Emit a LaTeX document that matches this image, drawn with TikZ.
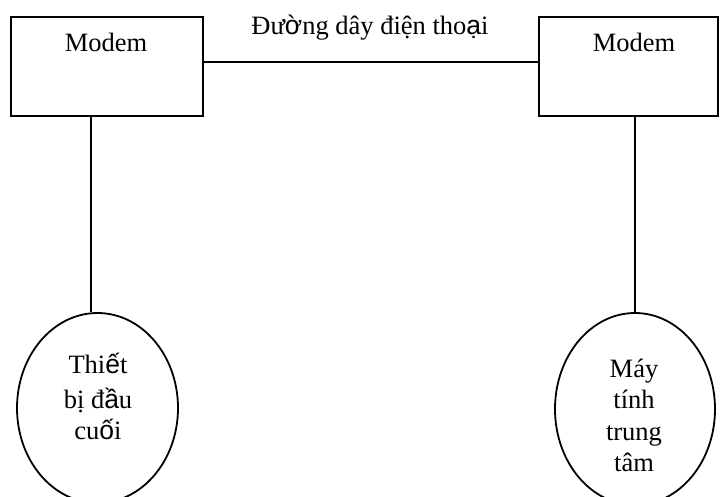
\documentclass[tikz,border=0pt]{standalone}
\usepackage{fontspec}
\setmainfont{Liberation Serif}
\newfontfamily\sansvn{Liberation Sans}
\usetikzlibrary{shapes.geometric}
\begin{document}
\begin{tikzpicture}[x=1pt,y=-1pt,
  box/.style={draw, line width=2.2pt, rectangle, minimum height=99pt, inner sep=0pt},
  oval/.style={draw, line width=1.8pt, ellipse, inner sep=0pt},
  wire/.style={line width=1.8pt},
  txt/.style={anchor=base, inner sep=0pt, font=\fontsize{26.5}{31}\selectfont}]
\useasboundingbox (0,0) rectangle (720,497);
\clip (0,0) rectangle (720,497);
% boxes
\node[box, minimum width=192pt] (m1) at (107,66.5) {};
\node[box, minimum width=179pt] (m2) at (628.5,66.5) {};
\node[txt] (m1t) at (106,52) {Modem};
\node[txt] (m2t) at (634,52) {Modem};
\node[txt] (lbl) at (370,35) {Đư{\sansvn ờ}ng dây điện tho{\sansvn ạ}i};
% ellipses
\node[oval, minimum width=161pt, minimum height=190pt] (e1) at (97.5,408) {};
\node[oval, minimum width=160pt, minimum height=192pt] (e2) at (635,409) {};
% connectors
\draw[wire] ([yshift=4.5pt]m1.east) -- ([yshift=4.5pt]m2.west);
\draw[wire] ([xshift=-16pt]m1.south) -- ([xshift=-16pt]m1.south |- e1.north);
\draw[wire] (e2.north |- m2.south) -- (e2.north);
% ellipse texts
\node[txt] (a1) at (98,373) {Thi{\sansvn ế}t};
\node[txt] (a2) at (98,408) {bị đ{\sansvn ầ}u};
\node[txt] (a3) at (98,439) {cu{\sansvn ố}i};
\node[txt] (b1) at (634,377) {Máy};
\node[txt] (b2) at (634,408) {tính};
\node[txt] (b3) at (634,440) {trung};
\node[txt] (b4) at (634,471) {tâm};
\end{tikzpicture}
\end{document}
